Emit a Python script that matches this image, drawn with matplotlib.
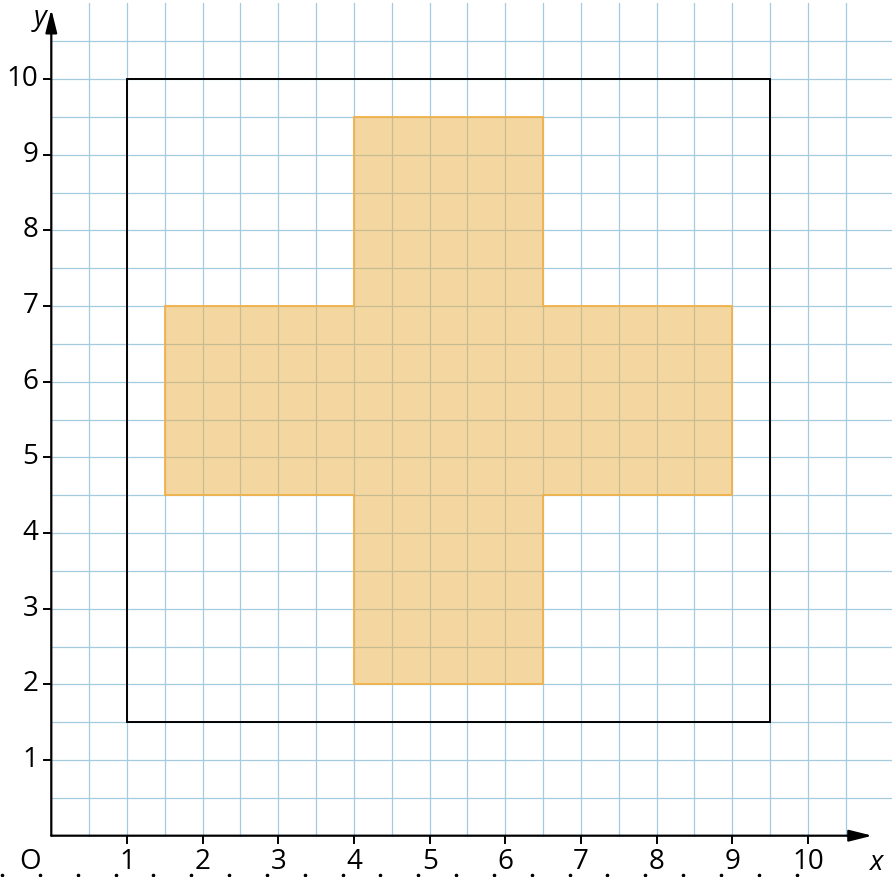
import numpy as np
import matplotlib.pyplot as plt
from matplotlib.patches import Polygon, Rectangle

plt.rcParams['font.family'] = ['Open Sans', 'DejaVu Sans']

# shapes (coordinates on the grid)
outer_square = (1, 1.5, 8.5, 8.5)  # x0, y0, width, height
cross_x = [4, 6.5, 6.5, 9, 9, 6.5, 6.5, 4, 4, 1.5, 1.5, 4]
cross_y = [2, 2, 4.5, 4.5, 7, 7, 9.5, 9.5, 7, 7, 4.5, 4.5]
x_ticks = list(range(1, 11))
y_ticks = list(range(1, 11))

unit = 75.67  # pixels per unit
W, H = 892, 877
ox, oy = 51.3, 835.7  # origin in pixels (from top-left)

fig = plt.figure(figsize=(W / 100, H / 100), dpi=100)
ax = fig.add_axes([0, 0, 1, 1])
ax.set_xlim(-ox / unit, (W - ox) / unit)
ax.set_ylim((oy - H) / unit, oy / unit)
ax.axis('off')

grid_col = '#a4cbe0'
xmax = (W - ox) / unit
grid = np.arange(1, 22) * 0.5
for g in grid:
    ax.plot([g, g], [0, 11], color=grid_col, lw=0.9, zorder=1)
    ax.plot([0, xmax], [g, g], color=grid_col, lw=0.9, zorder=1)

# outer square
ax.add_patch(Rectangle(outer_square[:2], outer_square[2], outer_square[3],
                       fill=False, ec='black', lw=1.4, zorder=3))

# cross
ax.add_patch(Polygon(list(zip(cross_x, cross_y)), closed=True,
                     fc='#ebaf43', alpha=0.5, ec='none', zorder=2))
ax.add_patch(Polygon(list(zip(cross_x, cross_y)), closed=True,
                     fill=False, ec='#f2b248', lw=1.3, zorder=2.5))

# axes with arrows
arrow = dict(arrowstyle='-|>,head_length=1.4,head_width=0.35',
             color='black', lw=1.6, shrinkA=0, shrinkB=0)
ax.annotate('', xy=(10.85, 0), xytext=(0, 0), arrowprops=arrow, zorder=5)
ax.annotate('', xy=(0, 10.92), xytext=(0, 0), arrowprops=arrow, zorder=5)

tk = 0.1
for t in x_ticks:
    ax.plot([t, t], [-tk, 0], color='black', lw=1.4, zorder=5)
    ax.text(t, -0.16, str(t), ha='center', va='top', fontsize=20)
for t in y_ticks:
    ax.plot([-tk, 0], [t, t], color='black', lw=1.4, zorder=5)
    ax.text(-0.17, t, str(t), ha='right', va='center', fontsize=20)

ax.text(-0.28, -0.16, 'O', ha='center', va='top', fontsize=20)
ax.text(10.9, -0.18, 'x', ha='center', va='top', fontsize=20, style='italic')
ax.text(-0.15, 10.8, 'y', ha='center', va='center', fontsize=20, style='italic')

# small dots along the bottom edge
dots = np.arange(0, 11, 0.5) - 0.65
ax.plot(dots, np.full(len(dots), -0.52), ls='none', marker='o', ms=1.6,
        color='black', zorder=5)

fig.savefig('out.png', dpi=100)
